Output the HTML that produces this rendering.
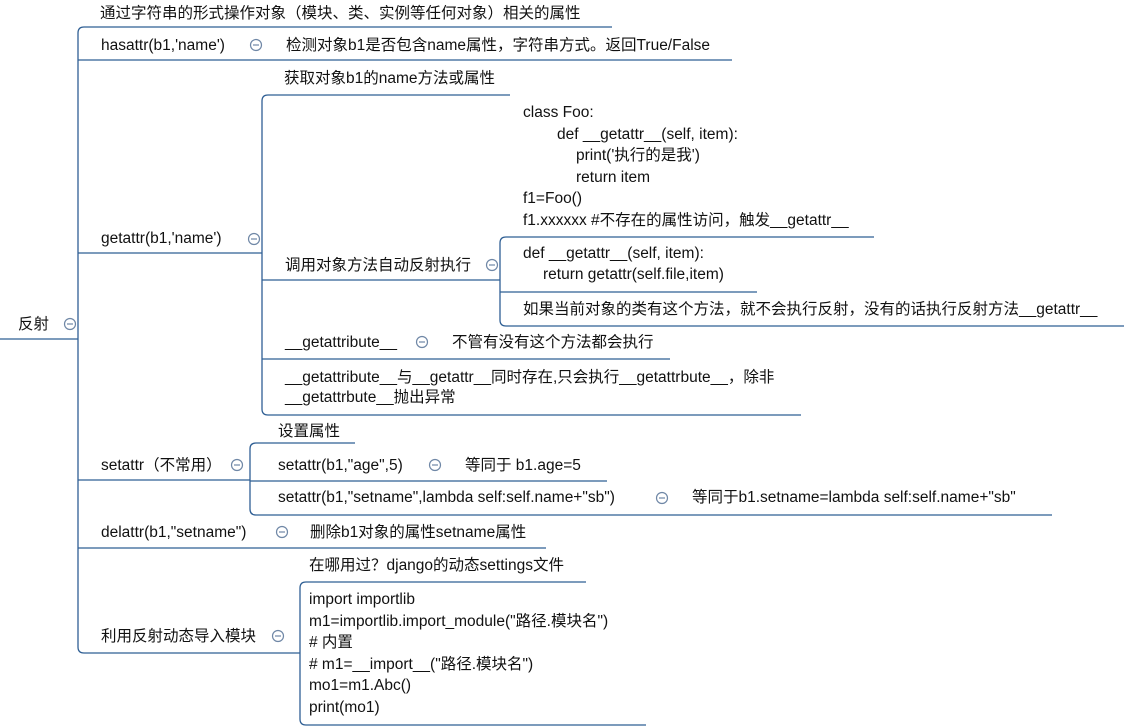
<!DOCTYPE html>
<html><head><meta charset="utf-8"><style>
html,body{margin:0;padding:0;background:#fff;}
#c{position:relative;width:1131px;height:727px;overflow:hidden;font-family:"Liberation Sans","Noto Sans CJK SC",sans-serif;font-size:15.5px;color:#111;}
.t{position:absolute;line-height:22px;white-space:pre;}
svg{position:absolute;left:0;top:0;}
</style></head><body><div id="c">
<svg width="1131" height="727" fill="none" stroke="#2f5f94" stroke-width="1.3">
<path d="M0 339H78"/>
<path d="M612 27H84Q78 27 78 33V647Q78 653 84 653H300"/>
<path d="M78 60H732"/>
<path d="M78 253H262"/>
<path d="M78 480H250"/>
<path d="M78 548H546"/>
<path d="M510 95H268Q262 95 262 101V409Q262 415 268 415H801"/>
<path d="M262 280H500"/>
<path d="M262 359H670"/>
<path d="M874 237H506Q500 237 500 243V320Q500 326 506 326H1124"/>
<path d="M500 292H757"/>
<path d="M355 443H256Q250 443 250 449V509Q250 515 256 515H1052"/>
<path d="M250 481H607"/>
<path d="M586 582H306Q300 582 300 588V719Q300 725 306 725H646"/>
<g stroke="#6f87a6" stroke-width="1.2">
<circle cx="70" cy="324" r="5.5"/><path d="M67 324H73"/>
<circle cx="256" cy="45" r="5.5"/><path d="M253 45H259"/>
<circle cx="254" cy="239" r="5.5"/><path d="M251 239H257"/>
<circle cx="492" cy="265" r="5.5"/><path d="M489 265H495"/>
<circle cx="422" cy="342" r="5.5"/><path d="M419 342H425"/>
<circle cx="237" cy="465" r="5.5"/><path d="M234 465H240"/>
<circle cx="435" cy="465" r="5.5"/><path d="M432 465H438"/>
<circle cx="662" cy="498" r="5.5"/><path d="M659 498H665"/>
<circle cx="282" cy="532" r="5.5"/><path d="M279 532H285"/>
<circle cx="278" cy="636" r="5.5"/><path d="M275 636H281"/>
</g>
</svg>
<div class="t" style="left:18px;top:314px">反射</div>
<div class="t" style="left:100px;top:3px">通过字符串的形式操作对象（模块、类、实例等任何对象）相关的属性</div>
<div class="t" style="left:101px;top:35px">hasattr(b1,'name')</div>
<div class="t" style="left:286px;top:35px">检测对象b1是否包含name属性，字符串方式。返回True/False</div>
<div class="t" style="left:284px;top:68px">获取对象b1的name方法或属性</div>
<div class="t" style="left:523px;top:102px">class Foo:</div>
<div class="t" style="left:557px;top:124px">def __getattr__(self, item):</div>
<div class="t" style="left:576px;top:145px">print('执行的是我')</div>
<div class="t" style="left:576px;top:167px">return item</div>
<div class="t" style="left:523px;top:188px">f1=Foo()</div>
<div class="t" style="left:523px;top:210px">f1.xxxxxx #不存在的属性访问，触发__getattr__</div>
<div class="t" style="left:101px;top:228px">getattr(b1,'name')</div>
<div class="t" style="left:285px;top:255px">调用对象方法自动反射执行</div>
<div class="t" style="left:523px;top:243px">def __getattr__(self, item):</div>
<div class="t" style="left:543px;top:264px">return getattr(self.file,item)</div>
<div class="t" style="left:523px;top:299px">如果当前对象的类有这个方法，就不会执行反射，没有的话执行反射方法__getattr__</div>
<div class="t" style="left:285px;top:332px">__getattribute__</div>
<div class="t" style="left:452px;top:332px">不管有没有这个方法都会执行</div>
<div class="t" style="left:285px;top:368px;line-height:19.5px">__getattribute__与__getattr__同时存在,只会执行__getattrbute__，除非
__getattrbute__抛出异常</div>
<div class="t" style="left:278px;top:421px">设置属性</div>
<div class="t" style="left:101px;top:455px">setattr（不常用）</div>
<div class="t" style="left:278px;top:455px">setattr(b1,"age",5)</div>
<div class="t" style="left:465px;top:455px">等同于 b1.age=5</div>
<div class="t" style="left:278px;top:487px">setattr(b1,"setname",lambda self:self.name+"sb")</div>
<div class="t" style="left:692px;top:487px">等同于b1.setname=lambda self:self.name+"sb"</div>
<div class="t" style="left:101px;top:522px">delattr(b1,"setname")</div>
<div class="t" style="left:310px;top:522px">删除b1对象的属性setname属性</div>
<div class="t" style="left:309px;top:555px">在哪用过？django的动态settings文件</div>
<div class="t" style="left:309px;top:589px;line-height:21.6px">import importlib
m1=importlib.import_module("路径.模块名")
# 内置
# m1=__import__("路径.模块名")
mo1=m1.Abc()
print(mo1)</div>
<div class="t" style="left:101px;top:626px">利用反射动态导入模块</div>
</div></body></html>
